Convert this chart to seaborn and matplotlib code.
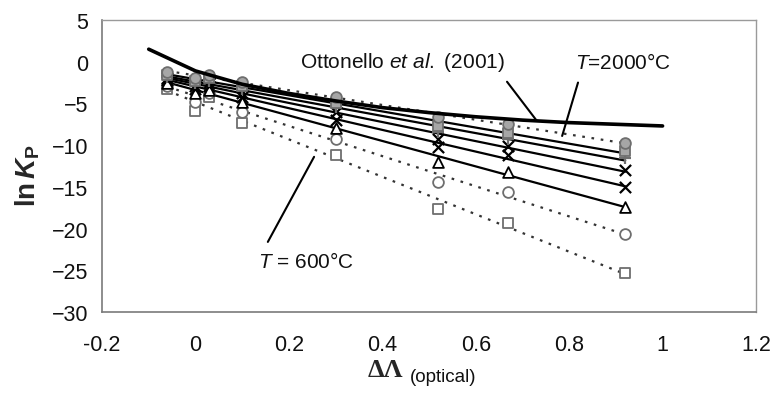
import matplotlib
matplotlib.use("Agg")
import matplotlib.pyplot as plt
import seaborn as sns
import numpy as np
import pandas as pd

# ---- data ----
delta_lambda = [-0.06, 0.0, 0.03, 0.10, 0.30, 0.52, 0.67, 0.92]
temps = ["600", "800", "1000", "1200", "1400", "1600", "1800", "2000"]
lnK_600 = [-3.3, -5.9, -4.2, -7.3, -11.2, -17.7, -19.3, -25.3]
lnK_800 = [-2.9, -4.8, -3.8, -6.0, -9.3, -14.4, -15.6, -20.7]
lnK_1000 = [-2.5, -3.8, -3.4, -4.8, -7.9, -12.0, -13.2, -17.4]
lnK_1200 = [-2.2, -3.3, -2.9, -4.2, -7.0, -10.2, -11.2, -15.0]
lnK_1400 = [-2.0, -2.9, -2.6, -3.7, -6.0, -9.3, -10.1, -13.0]
lnK_1600 = [-1.8, -2.6, -2.3, -3.3, -5.4, -8.4, -9.3, -11.5]
lnK_1800 = [-1.6, -2.3, -2.0, -2.9, -4.9, -7.7, -8.6, -10.7]
lnK_2000 = [-1.2, -1.9, -1.6, -2.4, -4.2, -6.6, -7.5, -9.7]

ottonello_x = [-0.1, 0.0, 0.1, 0.2, 0.3, 0.4, 0.5, 0.6, 0.7, 0.8, 0.9, 1.0]
ottonello_y = [1.5, -1.1, -2.7, -3.8, -4.7, -5.5, -6.1, -6.6, -7.0, -7.3, -7.5, -7.7]

xticks = [-0.2, 0, 0.2, 0.4, 0.6, 0.8, 1, 1.2]
xtick_labels = ["-0.2", "0", "0.2", "0.4", "0.6", "0.8", "1", "1.2"]
yticks = [5, 0, -5, -10, -15, -20, -25, -30]

series_vals = [lnK_600, lnK_800, lnK_1000, lnK_1200, lnK_1400, lnK_1600, lnK_1800, lnK_2000]
rows = []
for t, vals in zip(temps, series_vals):
    for x, y in zip(delta_lambda, vals):
        rows.append({"T": t, "dL": x, "lnK": y})
df = pd.DataFrame(rows)

# ---- styles ----
sns.set_style("white")
plt.rcParams["font.family"] = ["Liberation Sans", "DejaVu Sans"]
plt.rcParams["mathtext.fontset"] = "custom"
plt.rcParams["mathtext.rm"] = "Liberation Sans"
plt.rcParams["mathtext.it"] = "Liberation Sans:italic"
plt.rcParams["mathtext.bf"] = "Liberation Sans:bold"
plt.rcParams["mathtext.bfit"] = "Liberation Sans:italic:bold"

dark = "#333333"
gray_edge = "#6e6e6e"
gray_fill = "#a6a6a6"
dots = (0, (1.2, 3.0))
styles = {
    "600": dict(marker="s", fc="white", ec=gray_edge, ls=dots, lc=dark),
    "800": dict(marker="o", fc="white", ec=gray_edge, ls=dots, lc=dark),
    "1000": dict(marker="^", fc="white", ec="black", ls="-", lc="black"),
    "1200": dict(marker="x", fc="black", ec="black", ls="-", lc="black"),
    "1400": dict(marker="x", fc="black", ec="black", ls="-", lc="black"),
    "1600": dict(marker="+", fc=gray_edge, ec=gray_edge, ls="-", lc="black"),
    "1800": dict(marker="s", fc=gray_fill, ec=gray_edge, ls="-", lc="black"),
    "2000": dict(marker="o", fc=gray_fill, ec=gray_edge, ls=dots, lc=dark),
}

fig = plt.figure(figsize=(7.72, 4.02), dpi=100)
ax = fig.add_axes([102 / 772, 1 - 313 / 402, (756 - 102) / 772, (313 - 21) / 402])

for t in temps:
    sub = df[df["T"] == t]
    st = styles[t]
    sns.regplot(data=sub, x="dL", y="lnK", ax=ax, ci=None, scatter=False,
                truncate=True,
                line_kws=dict(color=st["lc"], lw=1.6, ls=st["ls"], zorder=2))
for t in temps:
    sub = df[df["T"] == t]
    st = styles[t]
    if st["marker"] in ("x", "+"):
        sns.scatterplot(data=sub, x="dL", y="lnK", ax=ax, marker=st["marker"],
                        s=65, color=st["ec"], linewidth=1.6, zorder=3, legend=False)
    else:
        sns.scatterplot(data=sub, x="dL", y="lnK", ax=ax, marker=st["marker"],
                        s=60, facecolor=st["fc"], edgecolor=st["ec"],
                        linewidth=1.3, zorder=3, legend=False)

sns.lineplot(x=ottonello_x, y=ottonello_y, ax=ax, color="black", lw=2.6,
             zorder=4, sort=False)

# leader lines and annotations
ax.plot([0.667, 0.731], [-2.4, -7.1], color="black", lw=1.5, zorder=5)
ax.plot([0.819, 0.785], [-2.5, -8.9], color="black", lw=1.5, zorder=5)
ax.plot([0.254, 0.155], [-11.4, -21.6], color="black", lw=1.5, zorder=5)

ax.text(0.224, 0.0, r"Ottonello $\it{et\ al.}$ (2001)", fontsize=15,
        ha="left", va="center", color="#111111")
ax.text(0.813, 0.0, r"$T$=2000°C", fontsize=15, ha="left", va="center",
        color="#111111")
ax.text(0.134, -23.9, r"$T$ = 600°C", fontsize=15, ha="left", va="center",
        color="#111111")

ax.set_xlim(-0.2, 1.2)
ax.set_ylim(-30, 5)
ax.set_xticks(xticks)
ax.set_xticklabels(xtick_labels)
ax.set_yticks(yticks)
ax.set_xlabel("")
ax.set_ylabel("")

for side in ["left", "bottom"]:
    ax.spines[side].set_color("#7a7a7a")
    ax.spines[side].set_linewidth(1.2)
for side in ["top", "right"]:
    ax.spines[side].set_color("#9a9a9a")
    ax.spines[side].set_linewidth(1.0)

ax.tick_params(axis="both", direction="out", length=6, width=1.1,
               color="#7a7a7a", labelsize=15.5, labelcolor="#111111")
ax.tick_params(axis="x", pad=10)
ax.tick_params(axis="y", pad=4)

fig.text(28 / 772, 1 - 175 / 402, r"ln$\,\mathbfit{K}_{\mathbf{P}}$",
         rotation=90, ha="center", va="center", fontsize=20, fontweight="bold")
fig.text(385 / 772, 1 - 371 / 402, "ΔΛ", family=["Liberation Serif", "DejaVu Serif"],
         fontweight="bold", fontsize=19, ha="center", va="center")
fig.text(410 / 772, 1 - 378 / 402, "(optical)", fontsize=13.5,
         ha="left", va="center", color="#111111")

fig.savefig("out.png", dpi=100)
